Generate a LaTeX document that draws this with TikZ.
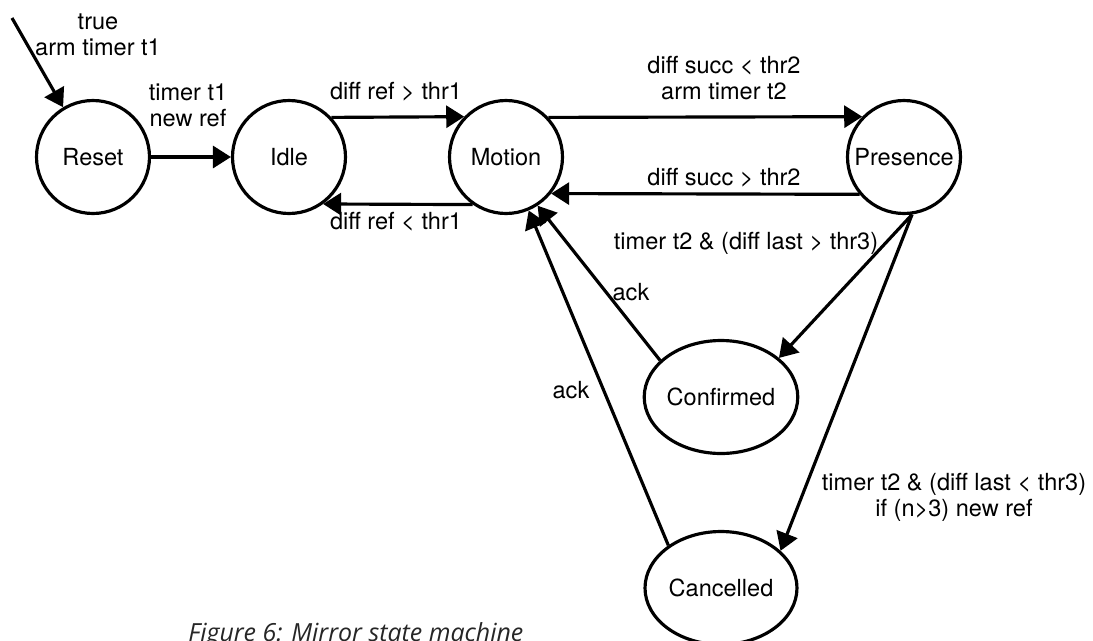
\documentclass[tikz,border=0pt]{standalone}
\usepackage{fontspec}
\setmainfont{TeX Gyre Heros}
\newfontfamily\capfont{Open Sans}
\usetikzlibrary{arrows.meta,shapes.geometric}

\begin{document}
\begin{tikzpicture}[x=0.02cm,y=-0.02cm,
    every node/.style={font=\fontsize{13.4}{14.8}\selectfont},
    state/.style={draw,circle,line width=1.8pt,minimum size=2.26cm,inner sep=0pt},
    wide state/.style={draw,ellipse,line width=1.8pt,minimum width=3.04cm,minimum height=2.26cm,inner sep=0pt},
    trans/.style={line width=1.8pt,-{Triangle[length=0.36cm,width=0.44cm]}},
    lbl/.style={align=center,inner sep=0pt}]
  \useasboundingbox (0,0) rectangle (1093,640);
  % states
  \node[state] (reset) at (93,157) {Reset};
  \node[state] (idle) at (289,157) {Idle};
  \node[state] (motion) at (506,157) {Motion};
  \node[state] (presence) at (904,157) {Presence};
  \node[wide state] (confirmed) at (721,397) {Confirmed};
  \node[wide state] (cancelled) at (721,588) {Cancelled};
  \coordinate (init) at (12,18);
  % transitions
  \draw[trans] (init) -- (reset.121);
  \draw[trans] (reset) -- (idle);
  \draw[trans] (idle.43.6) -- (motion.136.4);
  \draw[trans] (motion.-125.5) -- (idle.-54.5);
  \draw[trans] (motion.43.6) -- (presence.136.4);
  \draw[trans] (presence.-140.4) -- (motion.-39.6);
  \draw[trans] (presence.-82) -- (confirmed.34);
  \draw[trans] (presence.-82) -- (cancelled.32);
  \draw[trans] (confirmed.149) -- (motion.-57);
  \draw[trans] (cancelled.141.5) -- (motion.-67);
  % guards and actions
  \node[lbl] (l-init) at (98,35) {true\\arm timer t1};
  \node[lbl] (l-reset) at (188,105) {timer t1\\new ref};
  \node[lbl] (l-up) at (396,92) {diff ref > thr1};
  \node[lbl] (l-down) at (396,222) {diff ref < thr1};
  \node[lbl] (l-pres) at (724,78) {diff succ < thr2\\arm timer t2};
  \node[lbl] (l-back) at (724,178) {diff succ > thr2};
  \node[lbl] (l-conf) at (746,243) {timer t2 \& (diff last > thr3)};
  \node[lbl] (l-ack1) at (631,292) {ack};
  \node[lbl] (l-ack2) at (571,390) {ack};
  \node[lbl] (l-canc) at (954,497) {timer t2 \& (diff last < thr3)\\if (n>3) new ref};
  \node[anchor=base west,inner sep=0pt,text=black!85,
        font=\capfont\itshape\fontsize{14.2}{16}\selectfont] (caption) at (188,641)
        {Figure 6: Mirror state machine};
\end{tikzpicture}
\end{document}
